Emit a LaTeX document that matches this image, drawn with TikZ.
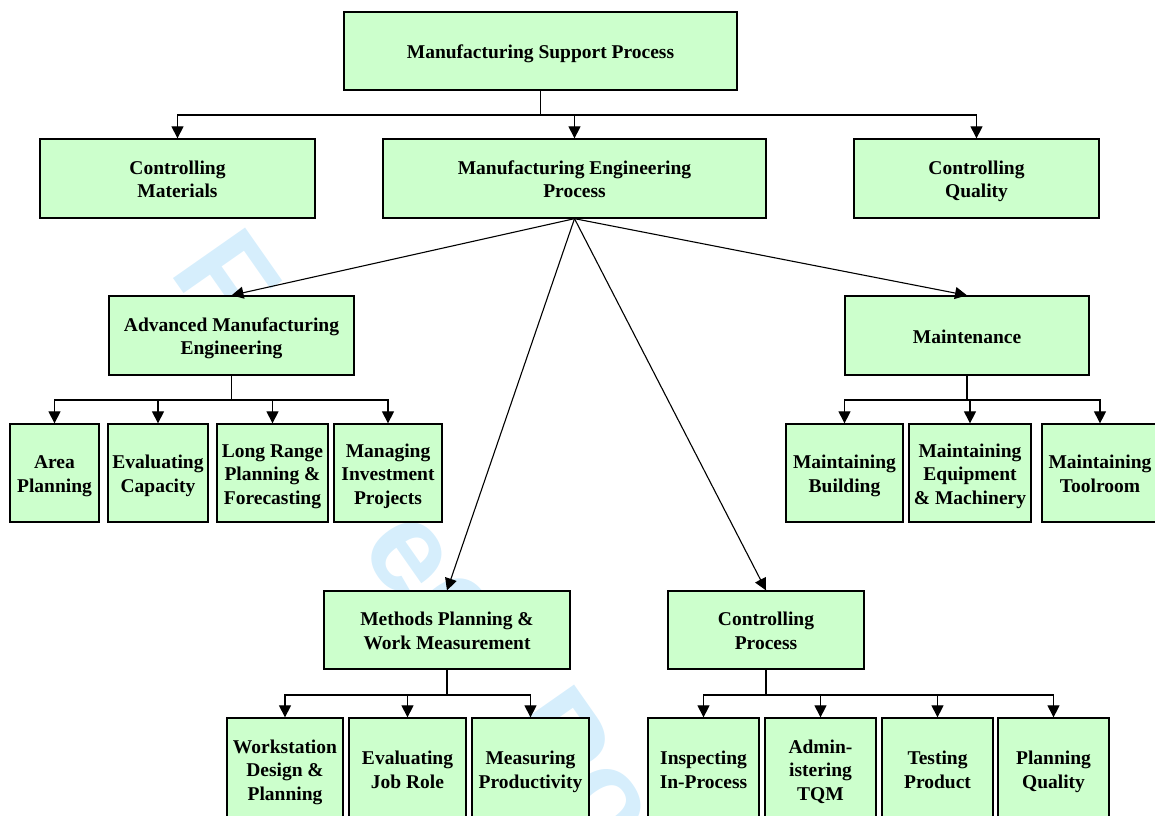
\documentclass[tikz,border=0pt]{standalone}
\usepackage{fontspec}
\setmainfont{Liberation Serif}
\newfontfamily\wmfont{Liberation Sans}
\usetikzlibrary{arrows.meta}
\definecolor{boxgreen}{RGB}{204,255,204}
\definecolor{wmblue}{RGB}{214,238,252}
\newcommand\boxtxt[1]{\raisebox{-3pt}[\height][\depth]{\begin{tabular}{@{}c@{}}#1\end{tabular}}}
\begin{document}
\begin{tikzpicture}[x=1pt,y=-1pt,
  box/.style={draw=black,line width=1.3pt,fill=boxgreen,rectangle,inner sep=0pt,
    font=\bfseries\fontsize{19.5}{23.5}\selectfont},
  sz/.style 2 args={minimum width=#1pt,minimum height=#2pt},
  arr/.style={line width=1.1pt,-{Triangle[length=12pt,width=12pt]}},
  wm/.style={text=wmblue,font=\wmfont\bfseries\fontsize{128}{128}\selectfont,rotate=-55,inner sep=0pt}]
\path[use as bounding box] (0,0) rectangle (1155,815);
\clip (0,0) rectangle (1155,815);
% watermark
\node[wm] (wF) at (227,278) {F};
\node[wm] (we1) at (407,556) {e};
\node[wm] (we2) at (455,612) {e};
\node[wm] (wP) at (558,738) {P};
\node[wm] (wo) at (605,805) {o};
% bus coordinates
\coordinate (bus1) at (0,115);
\coordinate (bus2) at (0,400);
\coordinate (bus3) at (0,695);
% boxes
\node[box,sz={393}{78}] (top) at (540.5,51) {\boxtxt{Manufacturing Support Process}};
\node[box,sz={275}{79}] (cm) at (177.5,178.5) {\boxtxt{Controlling\\Materials}};
\node[box,sz={383}{79}] (mep) at (574.5,178.5) {\boxtxt{Manufacturing Engineering\\Process}};
\node[box,sz={245}{79}] (cq) at (976.5,178.5) {\boxtxt{Controlling\\Quality}};
\node[box,sz={245}{79}] (ame) at (231.5,335.5) {\boxtxt{Advanced Manufacturing\\Engineering}};
\node[box,sz={244}{79}] (mnt) at (967,335.5) {\boxtxt{Maintenance}};
\node[box,sz={246}{78}] (mpw) at (447,630) {\boxtxt{Methods Planning \&\\Work Measurement}};
\node[box,sz={196}{78}] (cp) at (766,630) {\boxtxt{Controlling\\Process}};
\node[box,sz={89}{98}] (ap) at (54.5,473) {\boxtxt{Area\\Planning}};
\node[box,sz={100}{98}] (ec) at (158,473) {\boxtxt{Evaluating\\Capacity}};
\node[box,sz={111}{98}] (lr) at (272.5,473) {\boxtxt{Long Range\\Planning \&\\Forecasting}};
\node[box,sz={108}{98}] (mi) at (388,473) {\boxtxt{Managing\\Investment\\Projects}};
\node[box,sz={117}{98}] (mb) at (844.5,473) {\boxtxt{Maintaining\\Building}};
\node[box,sz={122}{98}] (meq) at (970,473) {\boxtxt{Maintaining\\Equipment\\\& Machinery}};
\node[box,sz={116}{98}] (mt) at (1100,473) {\boxtxt{Maintaining\\Toolroom}};
\node[box,sz={116}{102}] (ws) at (285,769) {\boxtxt{Workstation\\Design \&\\Planning}};
\node[box,sz={117}{102}] (ejr) at (407.5,769) {\boxtxt{Evaluating\\Job Role}};
\node[box,sz={117}{102}] (mp) at (530.5,769) {\boxtxt{Measuring\\Productivity}};
\node[box,sz={111}{102}] (iip) at (703.5,769) {\boxtxt{Inspecting\\In-Process}};
\node[box,sz={111}{102}] (tqm) at (820.5,769) {\boxtxt{Admin-\\istering\\TQM}};
\node[box,sz={111}{102}] (tp) at (937.5,769) {\boxtxt{Testing\\Product}};
\node[box,sz={111}{102}] (pq) at (1053.5,769) {\boxtxt{Planning\\Quality}};
% connectors
\foreach \c in {cm,mep,cq}
  \draw[arr] (top.south) |- (\c.north |- bus1) -- (\c.north);
\foreach \c in {ame,mnt,mpw,cp}
  \draw[arr] (mep.south) -- (\c.north);
\foreach \c in {ap,ec,lr,mi}
  \draw[arr] (ame.south) |- (\c.north |- bus2) -- (\c.north);
\foreach \c in {mb,meq,mt}
  \draw[arr] (mnt.south) |- (\c.north |- bus2) -- (\c.north);
\foreach \c in {ws,ejr,mp}
  \draw[arr] (mpw.south) |- (\c.north |- bus3) -- (\c.north);
\foreach \c in {iip,tqm,tp,pq}
  \draw[arr] (cp.south) |- (\c.north |- bus3) -- (\c.north);
\end{tikzpicture}
\end{document}
